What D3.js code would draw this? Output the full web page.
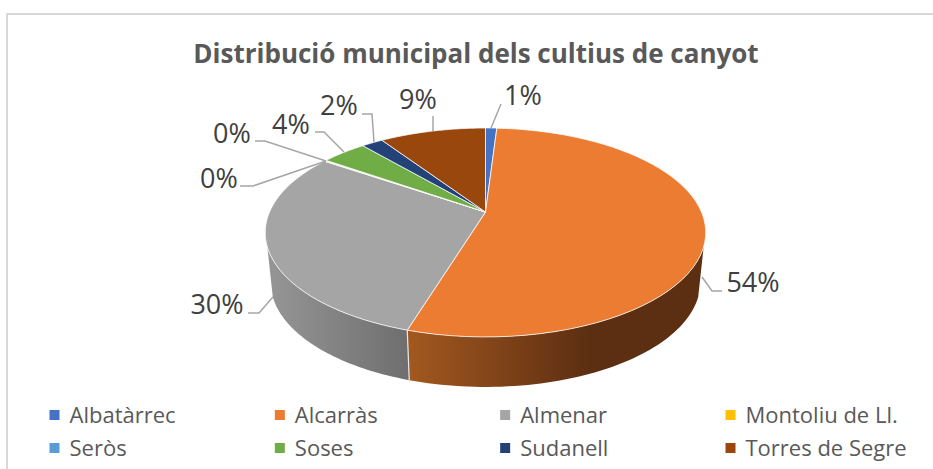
<!DOCTYPE html>
<html><head><meta charset="utf-8">
<script src="https://cdn.jsdelivr.net/npm/d3@7/dist/d3.min.js"></script>
<style>html,body{margin:0;background:#fff}svg{display:block}</style></head>
<body><svg id="c" width="933" height="469"></svg>
<script>
const titleText = "Distribució municipal dels cultius de canyot";
const categories = ["Albatàrrec","Alcarràs","Almenar","Montoliu de Ll.","Seròs","Soses","Sudanell","Torres de Segre"];
const values = [1.0,53.7,29.7,0.1,0.1,4.0,1.9,9.4];
const labels = ["1%","54%","30%","0%","0%","4%","2%","9%"];
const colors = ["#4472C4","#EB7C31","#A5A5A5","#FFC000","#5B9BD5","#70AD47","#234378","#9A470E"];
const labelPos = [[523,105],[753,292],[217,314],[219,188],[232,143],[291,134],[339,115],[418,109]];
const leaders = [
 [[501,104],[491,128]],
 [[722,291],[712,291],[702,277]],
 [[248,313],[259,313],[273,297]],
 [[240,186],[253,186],[326,161]],
 [[255,141],[265,141],[326,161]],
 [[315,132],[324,132],[344,152]],
 [[362,114],[372,114],[374,142]],
 [[433,116],[433,131]]
];
const svg = d3.select("#c");
const cx=485.5, R=216, depth=50;
const c=-0.196,a=58.9,b=212;
function proj(theta,lower){
  const u=Math.sin(theta), v=-Math.cos(theta), w=1+c*v;
  const x=R*u/w, y=(a*v+b)/w;
  return lower ? [cx+x*0.975,y+depth] : [cx+x,y];
}
const arcs = d3.pie().sort(null).value(d=>d)(values);
const defs = svg.append("defs");
function grad(id,x1,x2,c1,c2){
  const g=defs.append("linearGradient").attr("id",id).attr("gradientUnits","userSpaceOnUse")
    .attr("x1",x1).attr("x2",x2).attr("y1",0).attr("y2",0);
  g.append("stop").attr("offset",0).attr("stop-color",c1);
  g.append("stop").attr("offset",1).attr("stop-color",c2);
}
grad("gOrange",410,590,"#A2581F","#5C2E12");
grad("gGrey",270,410,"#959595","#6E6E6E");
const line=d3.line();
// frame
svg.append("path").attr("d",line([[7,469],[7,14],[933,14]])).attr("fill","none").attr("stroke","#D9D9D9").attr("stroke-width",2);
svg.append("text").attr("x",476).attr("y",63).attr("text-anchor","middle")
  .attr("font-family","'Open Sans'").attr("font-weight",700).attr("font-size",26).attr("fill","#595959").text(titleText);
const sample=(s,e)=>d3.range(0,61).map(i=>s+(e-s)*i/60);
const vis0=109*Math.PI/180, vis1=251*Math.PI/180;
// sides
[[1,"url(#gOrange)"],[2,"url(#gGrey)"]].forEach(([i,f])=>{
  const s=Math.max(arcs[i].startAngle,vis0), e=Math.min(arcs[i].endAngle,vis1);
  const t=sample(s,e);
  const pts=t.map(x=>proj(x,false)).concat(t.slice().reverse().map(x=>proj(x,true)));
  svg.append("path").attr("d",line(pts)+"Z").attr("fill",f);
});
const sep=arcs[1].endAngle;
svg.append("path").attr("d",line([proj(sep,false),proj(sep,true)])).attr("stroke","#E8E8E8").attr("stroke-width",1.2).attr("fill","none");
// top
arcs.forEach((d,i)=>{
  const pts=[[cx,b]].concat(sample(d.startAngle,d.endAngle).map(x=>proj(x,false)));
  svg.append("path").attr("d",line(pts)+"Z").attr("fill",colors[i]).attr("stroke","#fff").attr("stroke-opacity",0.85).attr("stroke-width",0.9).attr("stroke-linejoin","round");
});
// leaders & labels
leaders.forEach(l=>svg.append("path").attr("d",line(l)).attr("fill","none").attr("stroke","#A6A6A6").attr("stroke-width",1.5));
labels.forEach((t,i)=>svg.append("text").attr("x",labelPos[i][0]).attr("y",labelPos[i][1]).attr("text-anchor","middle")
  .attr("font-family","'Open Sans'").attr("font-size",27).attr("fill","#404040").text(t));
// legend
const lx=d3.scaleLinear().domain([0,3]).range([49.5,725.5]);
const ly=d3.scaleLinear().domain([0,1]).range([415,448]);
categories.forEach((t,i)=>{
  const g=svg.append("g").attr("transform",`translate(${lx(i%4)},${ly(Math.floor(i/4))})`);
  g.append("rect").attr("y",-5).attr("width",10).attr("height",10).attr("fill",colors[i]);
  g.append("text").attr("x",20).attr("y",8).attr("font-family","'Open Sans'").attr("font-size",22).attr("fill","#595959").text(t);
});
</script></body></html>
